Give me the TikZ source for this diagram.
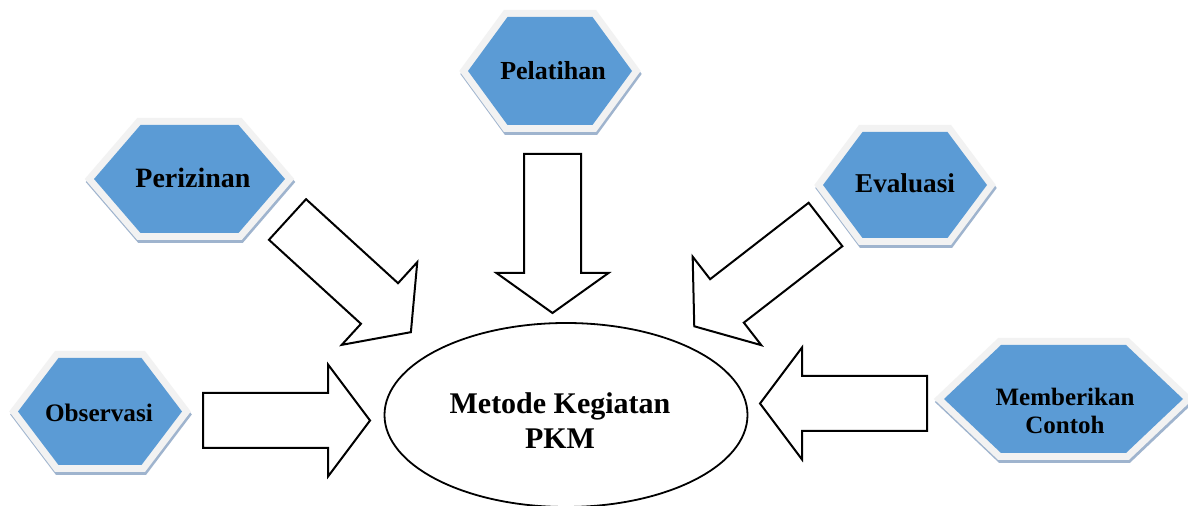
\documentclass[tikz,border=0pt]{standalone}
\usepackage{fontspec}
\setmainfont{Liberation Serif}
\usetikzlibrary{shapes.geometric}
\definecolor{hexblue}{HTML}{5B9BD5}
\definecolor{framec}{HTML}{F2F2F2}
\definecolor{shadowc}{HTML}{9FB4CE}
\tikzset{
  hexshadow/.style={draw=shadowc, fill=shadowc, line width=7pt, line join=miter},
  hexframe/.style={draw=framec, fill=framec, line width=7pt, line join=miter},
  hexfill/.style={fill=hexblue},
  blockarrow/.style={draw=black, fill=white, line width=1pt, line join=miter},
  lbl/.style={inner sep=0pt, align=center, text=black},
}
% cx cy halfwidth halftopwidth halfheight
\newcommand{\hexbox}[5]{%
  \draw[hexshadow, shift={(1,3)}] (#1-#3,#2) -- (#1-#4,#2-#5) -- (#1+#4,#2-#5) -- (#1+#3,#2) -- (#1+#4,#2+#5) -- (#1-#4,#2+#5) -- cycle;
  \draw[hexframe] (#1-#3,#2) -- (#1-#4,#2-#5) -- (#1+#4,#2-#5) -- (#1+#3,#2) -- (#1+#4,#2+#5) -- (#1-#4,#2+#5) -- cycle;
  \fill[hexfill] (#1-#3,#2) -- (#1-#4,#2-#5) -- (#1+#4,#2-#5) -- (#1+#3,#2) -- (#1+#4,#2+#5) -- (#1-#4,#2+#5) -- cycle;}
% sx sy angle shaftlength headlength shafthalfwidth
\newcommand{\blkarrow}[6]{%
  \draw[blockarrow, shift={(#1,#2)}, rotate=#3] (0,-#6) -- (#4,-#6) -- (#4,-56) -- (#4+#5,0) -- (#4,56) -- (#4,#6) -- (0,#6) -- cycle;}
\begin{document}
\begin{tikzpicture}[x=0.5pt,y=-0.5pt]
\useasboundingbox (0,0) rectangle (1188,506);
\fill[white] (0,0) rectangle (1188,506);

% hexagons
\hexbox{550}{71}{82}{42.5}{54}
\hexbox{189.5}{179}{95.5}{49}{54}
\hexbox{100}{411.5}{82}{41.5}{53.5}
\hexbox{905}{185}{82}{42.5}{53}
\hexbox{1063.5}{399}{119.5}{62.5}{54}

\node[lbl, anchor=base, font={\fontsize{13pt}{15pt}\selectfont\bfseries}] (pel) at (553,80) {Pelatihan};
\node[lbl, anchor=base, font={\fontsize{14pt}{16pt}\selectfont\bfseries}] (per) at (193,188) {Perizinan};
\node[lbl, anchor=base, font={\fontsize{12.6pt}{15pt}\selectfont\bfseries}] (obs) at (99,422) {Observasi};
\node[lbl, anchor=base, font={\fontsize{13.6pt}{15pt}\selectfont\bfseries}] (eva) at (905,193) {Evaluasi};
\node[lbl, font={\fontsize{12.5pt}{14pt}\selectfont\bfseries}] (mem) at (1065,411) {Memberikan\\Contoh};

% central ellipse
\node[ellipse, draw=black, line width=0.9pt, minimum width=181.5pt, minimum height=92pt, inner sep=0pt] (pkm) at (566,415) {};
\node[lbl, font={\fontsize{15pt}{17.5pt}\selectfont\bfseries}] (pkmtext) at (560,421) {Metode Kegiatan\\PKM};

% block arrows
\blkarrow{287.5}{219.5}{-42.4}{124.6}{42.5}{27.5}
\blkarrow{552.5}{154}{-90}{119}{40}{28.5}
\blkarrow{825.5}{224.5}{-142.2}{124.7}{41.4}{27.5}
\blkarrow{203}{420.5}{0}{125}{42}{27.5}
\blkarrow{927}{403.5}{180}{125}{42}{27.5}
\end{tikzpicture}
\end{document}
